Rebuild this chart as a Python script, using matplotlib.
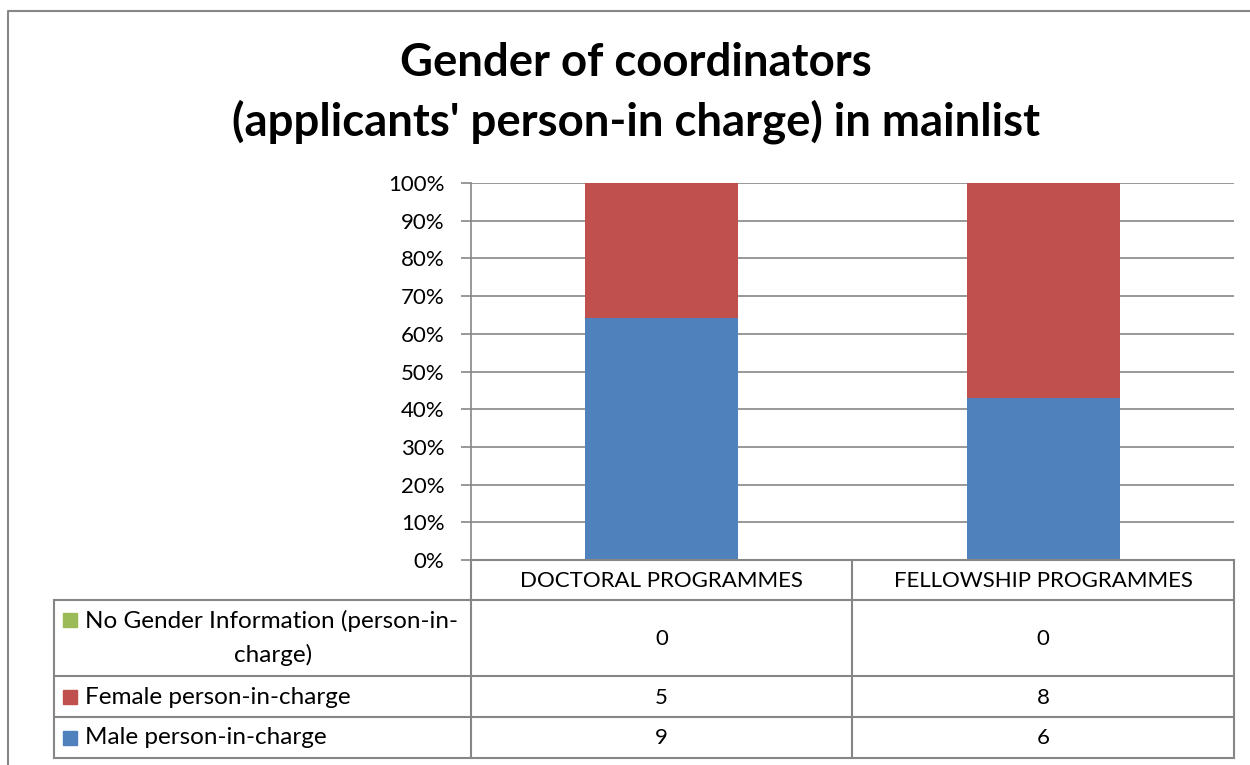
import matplotlib
matplotlib.use('Agg')
import matplotlib.pyplot as plt
import numpy as np

# dados do gráfico
categorias = ['DOCTORAL PROGRAMMES', 'FELLOWSHIP PROGRAMMES']
series = ['No Gender Information (person-in-\ncharge)', 'Female person-in-charge', 'Male person-in-charge']
sem_info = [0, 0]
feminino = [5, 8]
masculino = [9, 6]
cores = ['#9BBB59', '#C0504D', '#4F81BD']
titulo = "Gender of coordinators\n(applicants' person-in charge) in mainlist"

W, H = 1250, 765
fonte = 'Lato'
cinza = '#868686'
fs = 16
fs_rot = 17.5

fig = plt.figure(figsize=(W / 100, H / 100), dpi=100)

def px(x0, y0, x1, y1):
    return [x0 / W, 1 - y1 / H, (x1 - x0) / W, (y1 - y0) / H]

# percentuais empilhados
tot = np.array(sem_info) + np.array(feminino) + np.array(masculino)
p_m = np.array(masculino) / tot * 100
p_f = np.array(feminino) / tot * 100
p_n = np.array(sem_info) / tot * 100

ax = fig.add_axes(px(471, 183, 1234, 560))
x = np.arange(len(categorias))
ax.bar(x, p_m, width=0.4, color=cores[2], zorder=3)
ax.bar(x, p_f, width=0.4, bottom=p_m, color=cores[1], zorder=3)
ax.bar(x, p_n, width=0.4, bottom=p_m + p_f, color=cores[0], zorder=3)
ax.set_xlim(-0.5, 1.5)
ax.set_ylim(0, 100)
ax.set_yticks(np.arange(0, 101, 10))
ax.set_yticklabels([f'{v}%' for v in range(0, 101, 10)], fontfamily=fonte, fontsize=fs)
ax.set_xticks([])
ax.yaxis.grid(True, color=cinza, linewidth=1.2, zorder=0)
for s in ['top', 'right', 'bottom']:
    ax.spines[s].set_visible(False)
ax.spines['left'].set_color(cinza)
ax.spines['left'].set_linewidth(1.2)
ax.tick_params(axis='y', length=7, color=cinza, width=1.2, pad=12)

# tabela de dados
ov = fig.add_axes([0, 0, 1, 1])
ov.set_xlim(0, W)
ov.set_ylim(H, 0)
ov.axis('off')

# borda externa
ov.plot([8, 8, W + 5], [H + 5, 11, 11], color=cinza, lw=1.5)

col = [54, 471, 852, 1234]
lin = [560, 600, 676, 717, 758]
kw = dict(color=cinza, lw=1.5)
ov.plot([471, 471], [560, 758], **kw)
ov.plot([852, 852], [560, 758], **kw)
ov.plot([1234, 1234], [560, 758], **kw)
ov.plot([54, 54], [600, 758], **kw)
ov.plot([471, 1234], [560, 560], **kw)
for y in lin[1:]:
    ov.plot([54, 1234], [y, y], **kw)

for i, c in enumerate(categorias):
    ov.text((col[i + 1] + col[i + 2]) / 2, (lin[0] + lin[1]) / 2 + 1, c,
            ha='center', va='center', fontsize=fs, fontfamily=fonte)

valores = [sem_info, feminino, masculino]
for r in range(3):
    yc = (lin[r + 1] + lin[r + 2]) / 2
    for i in range(2):
        ov.text((col[i + 1] + col[i + 2]) / 2, yc + 1, str(valores[r][i]),
                ha='center', va='center', fontsize=fs, fontfamily=fonte)
    ov.add_patch(plt.Rectangle((63, yc - (18 if r == 0 else 0) - 7), 14, 14, color=cores[r]))

linha1, linha2 = series[0].split('\n')
ov.text(85, 621, linha1, ha='left', va='center', fontsize=fs_rot, fontfamily=fonte)
ov.text(273, 655, linha2, ha='center', va='center', fontsize=fs_rot, fontfamily=fonte)
ov.text(85, 697, series[1], ha='left', va='center', fontsize=fs_rot, fontfamily=fonte)
ov.text(85, 738, series[2], ha='left', va='center', fontsize=fs_rot, fontfamily=fonte)

# título
ov.text(636, 93, titulo, ha='center', va='center', fontsize=32.8, fontweight='bold',
        fontfamily=fonte, linespacing=1.42)

fig.savefig('out.png', dpi=100)
